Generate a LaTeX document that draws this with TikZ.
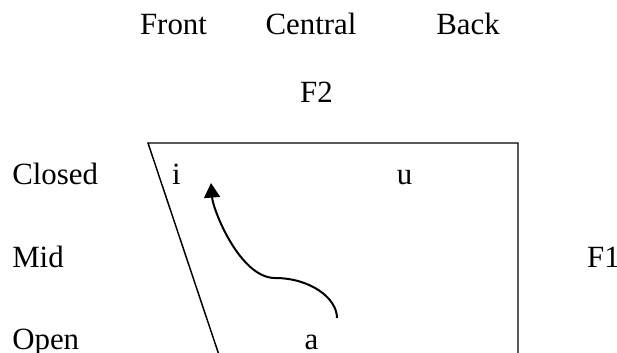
\documentclass[tikz,border=0pt]{standalone}
\usepackage{fontspec}
\setmainfont{Liberation Serif}
\usetikzlibrary{arrows.meta}

\begin{document}
\begin{tikzpicture}[>={Triangle[length=11pt,width=12pt]},
  font=\fontsize{23.25}{28}\selectfont,
  lbl/.style={anchor=base, inner sep=0pt}]
\clip (0,0) rectangle (16.326,9.314);
% columns
\node[lbl] (front) at (4.591,8.388) {Front};
\node[lbl] (central) at (8.229,8.388) {Central};
\node[lbl] (back) at (12.383,8.388) {Back};
\node[lbl] (ftwo) at (8.375,6.589) {F2};
% rows
\node[lbl, anchor=base west] (closed) at (0.318,4.419) {Closed};
\node[lbl, anchor=base west] (mid) at (0.318,2.236) {Mid};
\node[lbl, anchor=base west] (open) at (0.318,0.066) {Open};
\node[lbl, anchor=base west] (fone) at (15.53,2.236) {F1};
% vowel space
\draw[line width=1.1pt] (5.835,-0.2) -- (3.916,5.530) -- (13.706,5.530) -- (13.706,-0.2);
\node[lbl] (vi) at (4.670,4.419) {i};
\node[lbl] (vu) at (10.703,4.419) {u};
\node[lbl] (va) at (8.242,0.066) {a};
% shift from a up to i
\coordinate (start) at (8.917,0.900);
\coordinate (bend) at (7.277,1.958);
\coordinate (tip) at (5.583,4.472);
\draw[->, line width=1.5pt] (start) .. controls (8.917,1.429) and (8.203,1.958) .. (bend)
  .. controls (6.350,1.958) and (5.636,3.757) .. (tip);
\end{tikzpicture}
\end{document}
